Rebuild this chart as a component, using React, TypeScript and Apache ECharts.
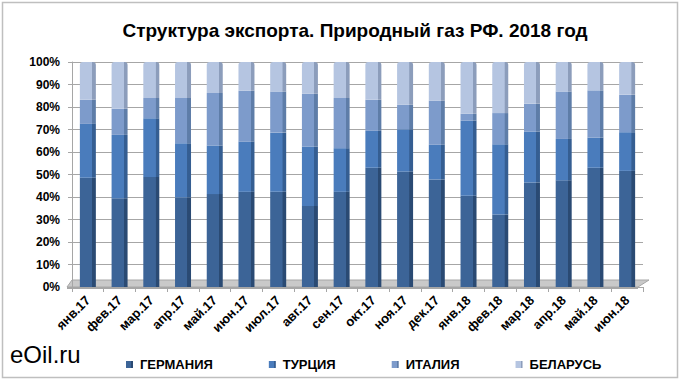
import React, { useEffect, useRef } from "react";
import * as echarts from "echarts";

const categories = [
  "янв.17", "фев.17", "мар.17", "апр.17", "май.17", "июн.17",
  "июл.17", "авг.17", "сен.17", "окт.17", "ноя.17", "дек.17",
  "янв.18", "фев.18", "мар.18", "апр.18", "май.18", "июн.18",
];

const germany = [48.6, 39.4, 48.9, 39.8, 41.3, 42.3, 42.3, 36.0, 42.3, 53.0, 51.3, 47.8, 40.6, 32.2, 46.4, 47.4, 53.0, 51.6];
const turkey = [23.9, 28.2, 26.1, 24.1, 21.6, 22.3, 26.3, 26.4, 19.4, 16.4, 18.8, 15.4, 33.4, 31.2, 22.7, 18.4, 13.4, 17.2];
const italy = [10.7, 11.6, 9.0, 20.1, 23.3, 22.6, 18.3, 23.5, 22.3, 13.8, 10.9, 19.6, 3.0, 13.9, 12.3, 21.1, 21.0, 16.6];
const belarus = [16.8, 20.8, 16.0, 16.0, 13.8, 12.8, 13.1, 14.1, 16.0, 16.8, 19.0, 17.2, 23.0, 22.7, 18.6, 13.1, 12.6, 14.6];

const seriesNames = ["ГЕРМАНИЯ", "ТУРЦИЯ", "ИТАЛИЯ", "БЕЛАРУСЬ"];
const seriesColors = ["#3C6497", "#4A7CBC", "#7D9BCB", "#B5C5E1"];
const sideColors = ["#2A4A73", "#355E92", "#5E7DA8", "#8C9DBB"];

const title = "Структура экспорта. Природный газ РФ. 2018 год";

function barGradient(main: string, side: string) {
  return new echarts.graphic.LinearGradient(0, 0, 1, 0, [
    { offset: 0, color: main },
    { offset: 0.76, color: main },
    { offset: 0.78, color: side },
    { offset: 1, color: side },
  ]);
}

export default function App() {
  const ref = useRef<HTMLDivElement>(null);
  useEffect(() => {
    if (!ref.current) return;
    const chart = echarts.init(ref.current, undefined, { renderer: "svg" });
    const values = [germany, turkey, italy, belarus];
    chart.setOption({
      animation: false,
      backgroundColor: "#ffffff",
      title: {
        text: title,
        left: 350,
        textAlign: "center",
        top: 16,
        textStyle: {
          fontFamily: "'Liberation Sans', Arial, sans-serif",
          fontSize: 19,
          fontWeight: "bold",
          color: "#000",
        },
      },
      graphic: [
        {
          type: "rect",
          shape: { x: 2.5, y: 2.5, width: 675, height: 375 },
          style: { fill: "none", stroke: "#BFBFBF", lineWidth: 1.5 },
          z: 0,
        },
        {
          type: "polygon",
          shape: { points: [[67, 287], [638, 287], [649, 280], [72, 280]] },
          style: { fill: "#C9C9C9", stroke: "#A6A6A6", lineWidth: 1 },
          z: 0,
        },
        {
          type: "rect",
          shape: { x: 67, y: 287, width: 571, height: 2 },
          style: { fill: "#A6A6A6" },
          z: 0,
        },
        {
          type: "text",
          left: 10,
          top: 342,
          style: {
            text: "eOil.ru",
            font: "24px 'Liberation Sans', Arial, sans-serif",
            fill: "#000",
          },
        },
      ],
      legend: {
        data: seriesNames,
        left: 121,
        top: 353,
        itemGap: 56,
        itemWidth: 7,
        itemHeight: 7,
        icon: "rect",
        textStyle: {
          fontFamily: "'Liberation Sans', Arial, sans-serif",
          fontSize: 13,
          fontWeight: "bold",
          color: "#000",
          padding: [0, 0, 0, 2],
        },
      },
      grid: { left: 72, right: 38, top: 62, bottom: 97, containLabel: false },
      xAxis: {
        type: "category",
        data: categories,
        axisLine: { show: false },
        axisTick: { show: true, alignWithLabel: false, length: 5, lineStyle: { color: "#A6A6A6" } },
        axisLabel: {
          rotate: 45,
          interval: 0,
          margin: 11,
          fontFamily: "'Liberation Sans', Arial, sans-serif",
          fontSize: 13,
          fontWeight: "bold",
          color: "#000",
        },
      },
      yAxis: {
        type: "value",
        min: 0,
        max: 100,
        interval: 10,
        axisLine: { show: true, lineStyle: { color: "#A6A6A6" } },
        axisTick: { show: true, length: 4, lineStyle: { color: "#A6A6A6" } },
        splitLine: { show: true, lineStyle: { color: "#A6A6A6", width: 1 } },
        axisLabel: {
          formatter: "{value}%",
          margin: 12,
          fontFamily: "'Liberation Sans', Arial, sans-serif",
          fontSize: 12,
          fontWeight: "bold",
          color: "#000",
        },
      },
      series: seriesNames.map((name, i) => ({
        name,
        type: "bar",
        stack: "total",
        barWidth: 16,
        data: values[i],
        itemStyle: {
          color: barGradient(seriesColors[i], sideColors[i]),
          borderRadius: i === 3 ? [3, 3, 0, 0] : 0,
        },
        emphasis: { disabled: true },
        z: 3,
      })),
    });
    return () => chart.dispose();
  }, []);
  return (
    <div
      ref={ref}
      style={{ position: "fixed", left: 0, top: 0, width: 681, height: 384 }}
    />
  );
}
